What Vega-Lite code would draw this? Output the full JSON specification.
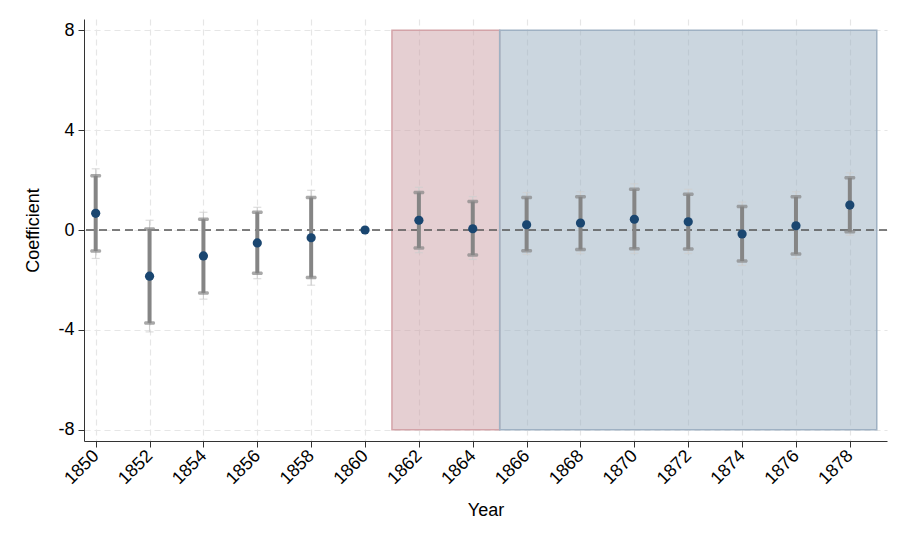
{
  "$schema": "https://vega.github.io/schema/vega-lite/v6.json",
  "width": 803,
  "height": 422,
  "autosize": "none",
  "padding": {"left": 84, "top": 19, "right": 21, "bottom": 103},
  "config": {
    "view": {"stroke": null},
    "font": "Liberation Sans",
    "axis": {
      "labelFont": "Liberation Sans",
      "titleFont": "Liberation Sans",
      "titleFontWeight": "normal",
      "labelColor": "#000",
      "titleColor": "#000",
      "domainColor": "#333",
      "tickColor": "#333",
      "gridColor": "#e6e6e6",
      "gridDash": [6, 4],
      "gridWidth": 1.2
    }
  },
  "datasets": {
    "periods": [
      {"start": 1861, "end": 1865, "top": 8, "bottom": -8, "period": "war"},
      {"start": 1865, "end": 1879, "top": 8, "bottom": -8, "period": "post"}
    ],
    "coefs": [
      {"year": 1850, "b": 0.67, "lo_in": -0.84, "hi_in": 2.17, "lo_out": -1.14, "hi_out": 2.45},
      {"year": 1852, "b": -1.85, "lo_in": -3.72, "hi_in": 0.04, "lo_out": -4.08, "hi_out": 0.39},
      {"year": 1854, "b": -1.04, "lo_in": -2.52, "hi_in": 0.43, "lo_out": -2.77, "hi_out": 0.71},
      {"year": 1856, "b": -0.52, "lo_in": -1.73, "hi_in": 0.71, "lo_out": -1.95, "hi_out": 0.91},
      {"year": 1858, "b": -0.31, "lo_in": -1.9, "hi_in": 1.3, "lo_out": -2.21, "hi_out": 1.59},
      {"year": 1860, "b": 0},
      {"year": 1862, "b": 0.39, "lo_in": -0.72, "hi_in": 1.5, "lo_out": -0.91, "hi_out": 1.71},
      {"year": 1864, "b": 0.05, "lo_in": -1.0, "hi_in": 1.14, "lo_out": -1.18, "hi_out": 1.34},
      {"year": 1866, "b": 0.21, "lo_in": -0.83, "hi_in": 1.3, "lo_out": -0.98, "hi_out": 1.5},
      {"year": 1868, "b": 0.28, "lo_in": -0.78, "hi_in": 1.33, "lo_out": -0.95, "hi_out": 1.53},
      {"year": 1870, "b": 0.43, "lo_in": -0.75, "hi_in": 1.63, "lo_out": -0.94, "hi_out": 1.85},
      {"year": 1872, "b": 0.33, "lo_in": -0.76, "hi_in": 1.43, "lo_out": -0.94, "hi_out": 1.63},
      {"year": 1874, "b": -0.16, "lo_in": -1.24, "hi_in": 0.94, "lo_out": -1.42, "hi_out": 1.12},
      {"year": 1876, "b": 0.17, "lo_in": -0.96, "hi_in": 1.33, "lo_out": -1.15, "hi_out": 1.53},
      {"year": 1878, "b": 1.0, "lo_in": -0.07, "hi_in": 2.09, "lo_out": -0.21, "hi_out": 2.29}
    ],
    "zero": [{"z": 0}]
  },
  "layer": [
    {
      "data": {"name": "periods"},
      "mark": {"type": "rect", "fillOpacity": 0.5, "strokeWidth": 1.5, "strokeOpacity": 1},
      "encoding": {
        "x": {
          "field": "start", "type": "quantitative",
          "scale": {"domain": [1849.566, 1879.38], "nice": false, "zero": false},
          "axis": {
            "title": "Year", "values": [1850,1852,1854,1856,1858,1860,1862,1864,1866,1868,1870,1872,1874,1876,1878],
            "format": "d", "labelAngle": -45, "labelAlign": "right", "labelBaseline": "middle",
            "labelFontSize": 18, "titleFontSize": 18,
            "labelPadding": 6, "tickSize": 6, "titlePadding": 14, "grid": true
          }
        },
        "x2": {"field": "end"},
        "y": {
          "field": "bottom", "type": "quantitative",
          "scale": {"domain": [-8.45, 8.45], "nice": false, "zero": false},
          "axis": {"title": "Coefficient", "values": [-8, -4, 0, 4, 8], "labelExpr": "'' + datum.value",
            "labelFontSize": 18, "titleFontSize": 18,
            "tickSize": 6, "labelPadding": 4, "titlePadding": 15, "grid": true}
        },
        "y2": {"field": "top"},
        "fill": {"field": "period", "type": "nominal", "scale": {"domain": ["war", "post"], "range": ["#cb9fa5", "#97adbf"]}, "legend": null},
        "stroke": {"field": "period", "type": "nominal", "scale": {"domain": ["war", "post"], "range": ["#d3a3a8", "#9fb1c3"]}, "legend": null}
      }
    },
    {
      "data": {"name": "zero"},
      "mark": {"type": "rule", "color": "#555555", "strokeDash": [8, 5], "strokeWidth": 1.5},
      "encoding": {"y": {"field": "z", "type": "quantitative"}}
    },
    {
      "data": {"name": "coefs"},
      "layer": [
        {
          "mark": {"type": "rule", "color": "#cfcfcf", "strokeWidth": 1.2},
          "encoding": {
            "x": {"field": "year", "type": "quantitative"},
            "y": {"field": "lo_out", "type": "quantitative"},
            "y2": {"field": "hi_out"}
          }
        },
        {
          "mark": {"type": "tick", "orient": "horizontal", "color": "#cfcfcf", "size": 8, "thickness": 1.2},
          "encoding": {
            "x": {"field": "year", "type": "quantitative"},
            "y": {"field": "lo_out", "type": "quantitative"}
          }
        },
        {
          "mark": {"type": "tick", "orient": "horizontal", "color": "#cfcfcf", "size": 8, "thickness": 1.2},
          "encoding": {
            "x": {"field": "year", "type": "quantitative"},
            "y": {"field": "hi_out", "type": "quantitative"}
          }
        },
        {
          "mark": {"type": "rule", "color": "#858585", "strokeWidth": 4},
          "encoding": {
            "x": {"field": "year", "type": "quantitative"},
            "y": {"field": "lo_in", "type": "quantitative"},
            "y2": {"field": "hi_in"}
          }
        },
        {
          "mark": {"type": "tick", "orient": "horizontal", "color": "#858585", "size": 11, "thickness": 3.5, "cornerRadius": 1.5},
          "encoding": {
            "x": {"field": "year", "type": "quantitative"},
            "y": {"field": "lo_in", "type": "quantitative"}
          }
        },
        {
          "mark": {"type": "tick", "orient": "horizontal", "color": "#858585", "size": 11, "thickness": 3.5, "cornerRadius": 1.5},
          "encoding": {
            "x": {"field": "year", "type": "quantitative"},
            "y": {"field": "hi_in", "type": "quantitative"}
          }
        },
        {
          "mark": {"type": "circle", "color": "#1a4670", "opacity": 1, "size": 85},
          "encoding": {
            "x": {"field": "year", "type": "quantitative"},
            "y": {"field": "b", "type": "quantitative"}
          }
        }
      ]
    }
  ]
}
